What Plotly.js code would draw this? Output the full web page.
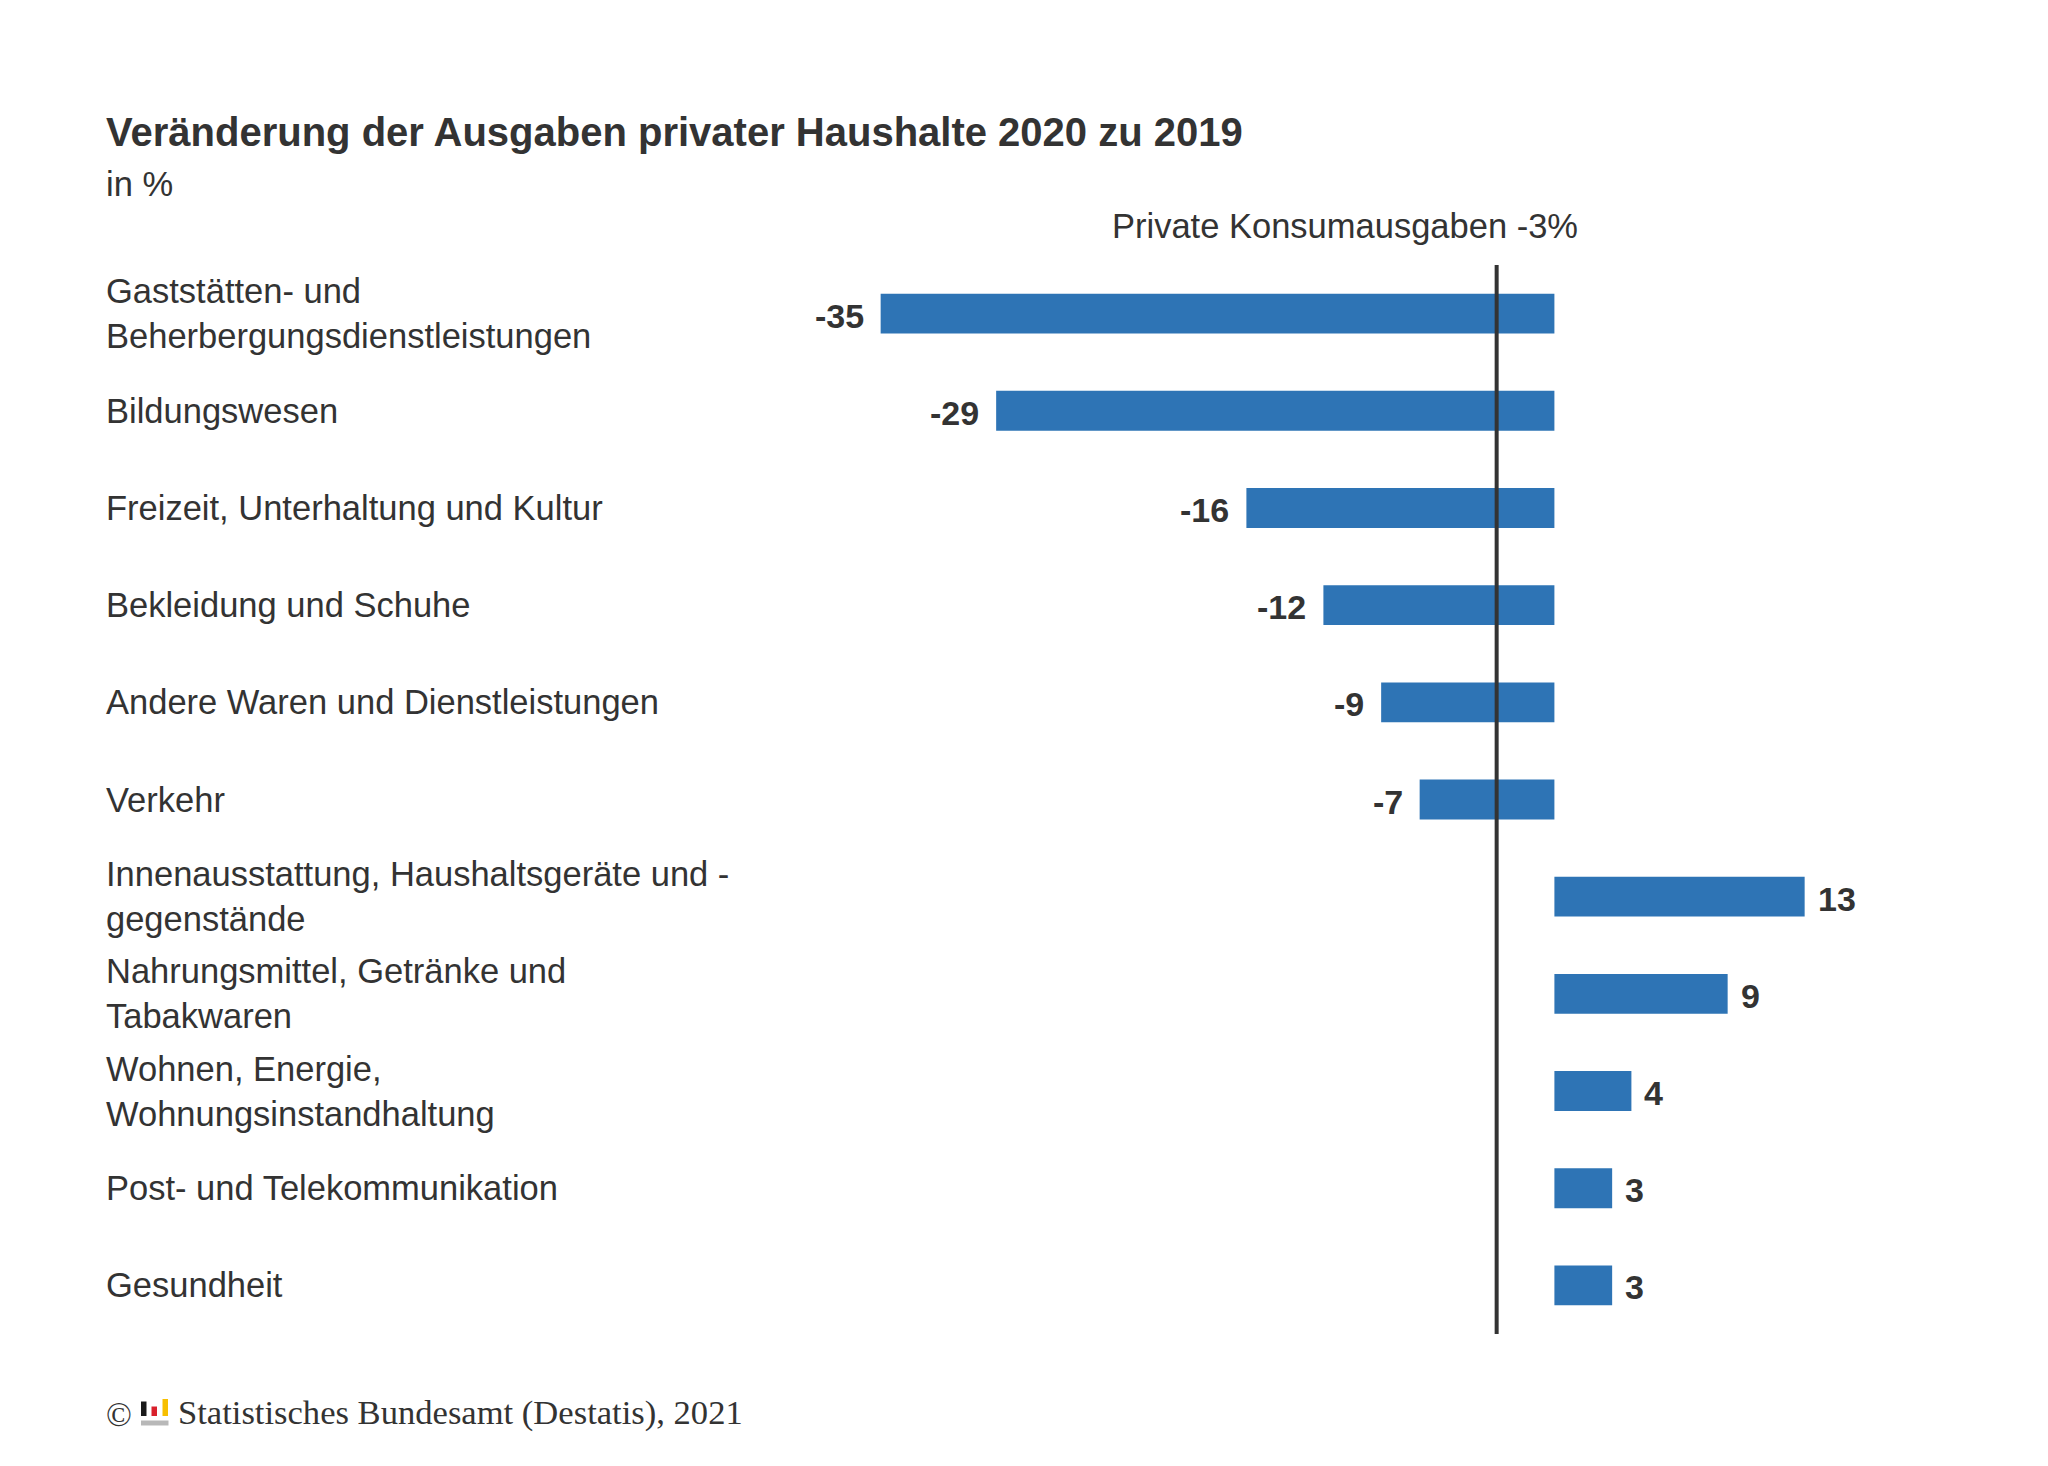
<!DOCTYPE html>
<html>
<head>
<meta charset="utf-8">
<script src="https://cdn.plot.ly/plotly-3.0.1.min.js"></script>
<style>html,body{margin:0;padding:0;background:#fff;}</style>
</head>
<body>
<div id="chart" style="width:2048px;height:1466px;"></div>
<script>
const categories = [
  "Gaststätten- und<br>Beherbergungsdienstleistungen",
  "Bildungswesen",
  "Freizeit, Unterhaltung und Kultur",
  "Bekleidung und Schuhe",
  "Andere Waren und Dienstleistungen",
  "Verkehr",
  "Innenausstattung, Haushaltsgeräte und -<br>gegenstände",
  "Nahrungsmittel, Getränke und<br>Tabakwaren",
  "Wohnen, Energie,<br>Wohnungsinstandhaltung",
  "Post- und Telekommunikation",
  "Gesundheit"
];
const values = [-35, -29, -16, -12, -9, -7, 13, 9, 4, 3, 3];
const totalChange = -3;
const titleText = "Veränderung der Ausgaben privater Haushalte 2020 zu 2019";
const subtitleText = "in %";
const referenceLabel = "Private Konsumausgaben -3%";
const sourceText = "Statistisches Bundesamt (Destatis), 2021";

const W = 2048, H = 1466;
const M = {l: 820, r: 148, t: 265, b: 132};
const PW = W - M.l - M.r, PH = H - M.t - M.b;
const px = x => (x - M.l) / PW;
const py = y => 1 - (y - M.t) / PH;

const TXT = "#333333";
const BAR = "#2E74B5";
const FONT = "Liberation Sans, Arial, sans-serif";
const SERIF = "Liberation Serif, Times New Roman, serif";

const trace = {
  type: "bar",
  orientation: "h",
  y: categories,
  x: values,
  width: 0.41,
  marker: {color: BAR, line: {width: 0}},
  hoverinfo: "skip"
};

const annotations = [];
categories.forEach((c, i) => {
  annotations.push({
    xref: "paper", yref: "y", x: px(104), y: c,
    xanchor: "left", yanchor: "middle", align: "left",
    text: c, showarrow: false,
    font: {family: FONT, size: 34.5, color: TXT}
  });
  annotations.push({
    xref: "x", yref: "y", x: values[i], y: c,
    xanchor: values[i] < 0 ? "right" : "left", yanchor: "middle",
    xshift: values[i] < 0 ? -15 : 11, yshift: -2,
    text: String(values[i]), showarrow: false,
    font: {family: FONT, size: 34, color: TXT, weight: "bold"}
  });
});
annotations.push({
  xref: "paper", yref: "paper", x: px(104), y: py(132),
  xanchor: "left", yanchor: "middle", showarrow: false,
  text: "<b>" + titleText + "</b>",
  font: {family: FONT, size: 40, color: TXT}
});
annotations.push({
  xref: "paper", yref: "paper", x: px(104), y: py(184),
  xanchor: "left", yanchor: "middle", showarrow: false,
  text: subtitleText,
  font: {family: FONT, size: 34.5, color: TXT}
});
annotations.push({
  xref: "paper", yref: "paper", x: px(1580), y: py(226),
  xanchor: "right", yanchor: "middle", showarrow: false,
  text: referenceLabel,
  font: {family: FONT, size: 34.5, color: TXT}
});
annotations.push({
  xref: "paper", yref: "paper", x: px(104), y: py(1414),
  xanchor: "left", yanchor: "middle", showarrow: false,
  text: "©",
  font: {family: SERIF, size: 34, color: TXT}
});
annotations.push({
  xref: "paper", yref: "paper", x: px(176), y: py(1412),
  xanchor: "left", yanchor: "middle", showarrow: false,
  text: sourceText,
  font: {family: SERIF, size: 34.6, color: TXT}
});

const shapes = [
  {type: "line", xref: "x", yref: "paper", x0: totalChange, x1: totalChange, y0: 0, y1: 1,
   line: {color: TXT, width: 4}},
  // Destatis logo
  {type: "rect", xref: "paper", yref: "paper", x0: px(141), x1: px(146.5), y0: py(1416), y1: py(1401.5), fillcolor: "#1a1a1a", line: {width: 0}},
  {type: "rect", xref: "paper", yref: "paper", x0: px(151.5), x1: px(157), y0: py(1416), y1: py(1406.5), fillcolor: "#d9202c", line: {width: 0}},
  {type: "rect", xref: "paper", yref: "paper", x0: px(162.5), x1: px(168), y0: py(1416), y1: py(1399), fillcolor: "#f7bf00", line: {width: 0}},
  {type: "rect", xref: "paper", yref: "paper", x0: px(141), x1: px(168.5), y0: py(1425.5), y1: py(1420.5), fillcolor: "#b8b8b8", line: {width: 0}}
];

const layout = {
  width: W, height: H,
  margin: M,
  paper_bgcolor: "#ffffff", plot_bgcolor: "#ffffff",
  showlegend: false,
  xaxis: {range: [(M.l - 1554.4) / 19.25, (W - M.r - 1554.4) / 19.25],
          showgrid: false, zeroline: false, showticklabels: false, ticks: "", showline: false, fixedrange: true},
  yaxis: {type: "category", categoryarray: categories, range: [10.5, -0.5],
          showgrid: false, zeroline: false, showticklabels: false, ticks: "", showline: false, fixedrange: true},
  annotations: annotations,
  shapes: shapes,
  font: {family: FONT, color: TXT}
};

Plotly.newPlot("chart", [trace], layout, {displayModeBar: false, staticPlot: true});
</script>
</body>
</html>
